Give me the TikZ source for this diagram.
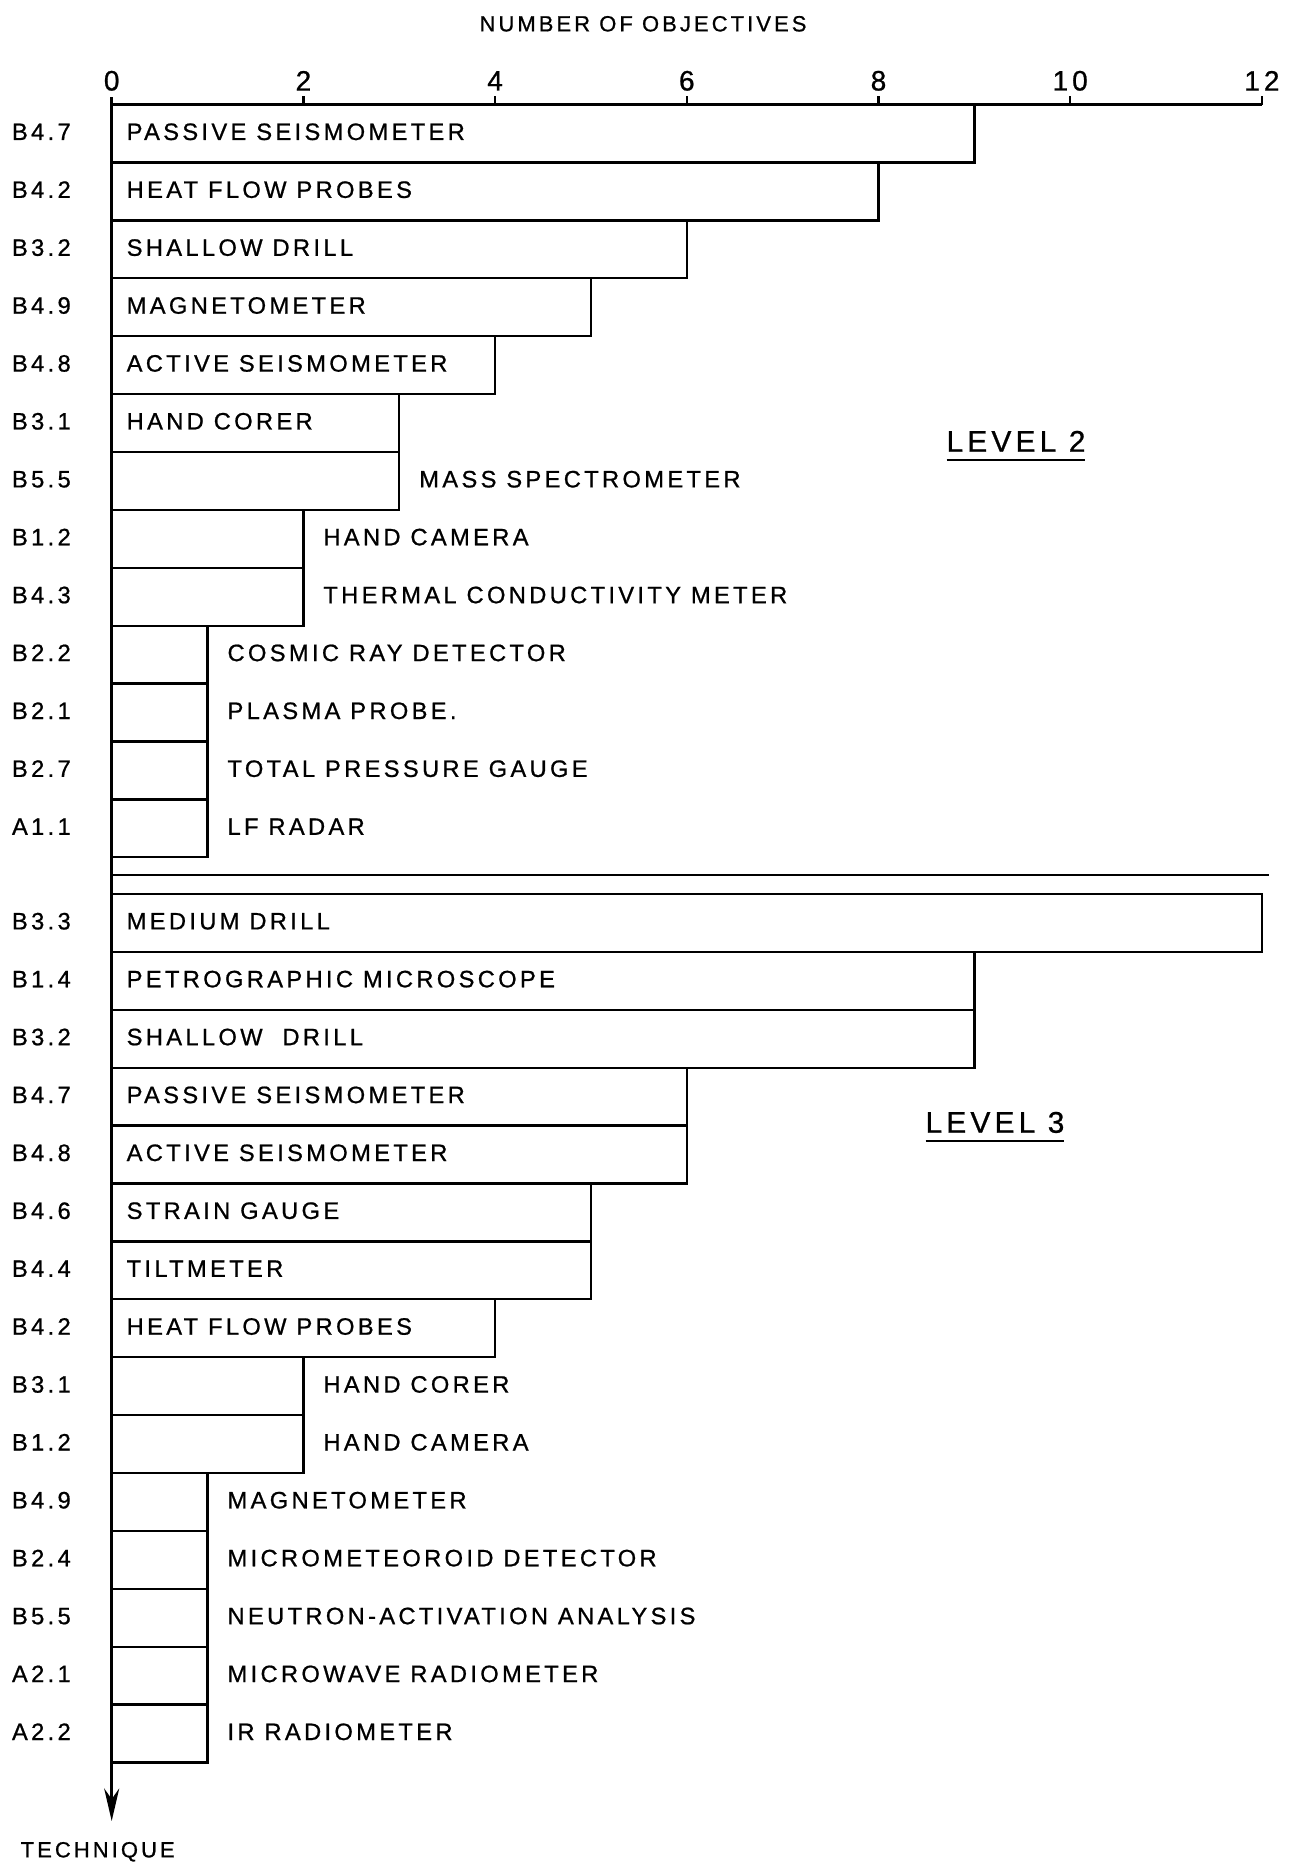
\documentclass[tikz,border=0pt]{standalone}
\usepackage{fontspec}
\setmainfont{Liberation Sans}[LetterSpace=14,FakeBold=0.8]
\usepackage{tikz}
\usetikzlibrary{arrows.meta,positioning,calc}

\begin{document}
\begin{tikzpicture}[
	  every node/.style={inner sep=0pt,outer sep=0pt},
	  bar/.style={draw,line width=1.3pt,anchor=north west,minimum width=#1*1.917cm,minimum height=1.158cm},
	  lettering/.style={anchor=west,font=\fontsize{13.5}{15}\selectfont,text height=9.6pt,text depth=0pt,yshift=0.04cm},
	  techcode/.style={lettering,font=\fontsize{13.5}{15}\selectfont},
	  inlabel/.style={lettering,xshift=0.3cm},
	  outlabel/.style={lettering,xshift=0.4cm},
	  ticklabel/.style={font=\fontsize{16}{18}\selectfont},
	  levellabel/.style={font=\fontsize{17}{19}\selectfont,text height=12.2pt,text depth=0pt},
	  axisline/.style={line width=1.8pt},
	  tickline/.style={line width=1.3pt}]

	  \path[fill=white] (0,0) rectangle (25.86,-37.28);

	  % axes
	  \coordinate (origin) at (2.234,-2.092);
	  \coordinate (axistop) at (2.234,-1.94);
	  \coordinate (axisend) at (25.238,-2.092);
	  \coordinate (tip) at (2.234,-36.42);
	  \coordinate (codecol) at (0.24,0);
	  \coordinate (top3) at (2.234,-17.88);
	  \coordinate (sepend) at (25.38,-17.50);

	  \node[font=\fontsize{12.5}{14}\selectfont] (title) at (12.86,-0.476) {NUMBER OF OBJECTIVES};
	  \node[ticklabel] (t0) at (2.234,-1.616) {0};
	  \node[ticklabel] (t2) at (6.068,-1.616) {2};
	  \node[ticklabel] (t4) at (9.902,-1.616) {4};
	  \node[ticklabel] (t6) at (13.736,-1.616) {6};
	  \node[ticklabel] (t8) at (17.570,-1.616) {8};
	  \node[ticklabel] (t10) at (21.404,-1.616) {10};
	  \node[ticklabel] (t12) at (25.238,-1.616) {12};
	  \draw[tickline] (t2 |- origin) -- ++(0,0.18);
	  \draw[tickline] (t4 |- origin) -- ++(0,0.18);
	  \draw[tickline] (t6 |- origin) -- ++(0,0.18);
	  \draw[tickline] (t8 |- origin) -- ++(0,0.18);
	  \draw[tickline] (t10 |- origin) -- ++(0,0.18);
	  \draw[tickline] (t12 |- origin) -- ++(0,0.18);

	  % level 2
	  \node[bar=9] (passive2) at (origin) {};
	  \node[techcode] (passive2-code) at (codecol |- passive2.west) {B4.7};
	  \node[inlabel] (passive2-text) at (passive2.west) {PASSIVE SEISMOMETER};
	  \node[bar=8] (heat2) at (passive2.south west) {};
	  \node[techcode] (heat2-code) at (codecol |- heat2.west) {B4.2};
	  \node[inlabel] (heat2-text) at (heat2.west) {HEAT FLOW PROBES};
	  \node[bar=6] (shallow2) at (heat2.south west) {};
	  \node[techcode] (shallow2-code) at (codecol |- shallow2.west) {B3.2};
	  \node[inlabel] (shallow2-text) at (shallow2.west) {SHALLOW DRILL};
	  \node[bar=5] (magneto2) at (shallow2.south west) {};
	  \node[techcode] (magneto2-code) at (codecol |- magneto2.west) {B4.9};
	  \node[inlabel] (magneto2-text) at (magneto2.west) {MAGNETOMETER};
	  \node[bar=4] (active2) at (magneto2.south west) {};
	  \node[techcode] (active2-code) at (codecol |- active2.west) {B4.8};
	  \node[inlabel] (active2-text) at (active2.west) {ACTIVE SEISMOMETER};
	  \node[bar=3] (corer2) at (active2.south west) {};
	  \node[techcode] (corer2-code) at (codecol |- corer2.west) {B3.1};
	  \node[inlabel] (corer2-text) at (corer2.west) {HAND CORER};
	  \node[bar=3] (massspec2) at (corer2.south west) {};
	  \node[techcode] (massspec2-code) at (codecol |- massspec2.west) {B5.5};
	  \node[outlabel] (massspec2-text) at (massspec2.east) {MASS SPECTROMETER};
	  \node[bar=2] (camera2) at (massspec2.south west) {};
	  \node[techcode] (camera2-code) at (codecol |- camera2.west) {B1.2};
	  \node[outlabel] (camera2-text) at (camera2.east) {HAND CAMERA};
	  \node[bar=2] (thermal2) at (camera2.south west) {};
	  \node[techcode] (thermal2-code) at (codecol |- thermal2.west) {B4.3};
	  \node[outlabel] (thermal2-text) at (thermal2.east) {THERMAL CONDUCTIVITY METER};
	  \node[bar=1] (cosmic2) at (thermal2.south west) {};
	  \node[techcode] (cosmic2-code) at (codecol |- cosmic2.west) {B2.2};
	  \node[outlabel] (cosmic2-text) at (cosmic2.east) {COSMIC RAY DETECTOR};
	  \node[bar=1] (plasma2) at (cosmic2.south west) {};
	  \node[techcode] (plasma2-code) at (codecol |- plasma2.west) {B2.1};
	  \node[outlabel] (plasma2-text) at (plasma2.east) {PLASMA PROBE.};
	  \node[bar=1] (pressure2) at (plasma2.south west) {};
	  \node[techcode] (pressure2-code) at (codecol |- pressure2.west) {B2.7};
	  \node[outlabel] (pressure2-text) at (pressure2.east) {TOTAL PRESSURE GAUGE};
	  \node[bar=1] (radar2) at (pressure2.south west) {};
	  \node[techcode] (radar2-code) at (codecol |- radar2.west) {A1.1};
	  \node[outlabel] (radar2-text) at (radar2.east) {LF RADAR};

	  \node[levellabel] (level2) at (20.32,-8.82) {LEVEL 2};
	  \draw[tickline] ([yshift=-0.17cm]level2.south west) -- ([yshift=-0.17cm]level2.south east);

	  \draw[tickline] (origin |- sepend) -- (sepend);

	  % level 3
	  \node[bar=12] (medium3) at (top3) {};
	  \node[techcode] (medium3-code) at (codecol |- medium3.west) {B3.3};
	  \node[inlabel] (medium3-text) at (medium3.west) {MEDIUM DRILL};
	  \node[bar=9] (petro3) at (medium3.south west) {};
	  \node[techcode] (petro3-code) at (codecol |- petro3.west) {B1.4};
	  \node[inlabel] (petro3-text) at (petro3.west) {PETROGRAPHIC MICROSCOPE};
	  \node[bar=9] (shallow3) at (petro3.south west) {};
	  \node[techcode] (shallow3-code) at (codecol |- shallow3.west) {B3.2};
	  \node[inlabel] (shallow3-text) at (shallow3.west) {SHALLOW~~DRILL};
	  \node[bar=6] (passive3) at (shallow3.south west) {};
	  \node[techcode] (passive3-code) at (codecol |- passive3.west) {B4.7};
	  \node[inlabel] (passive3-text) at (passive3.west) {PASSIVE SEISMOMETER};
	  \node[bar=6] (active3) at (passive3.south west) {};
	  \node[techcode] (active3-code) at (codecol |- active3.west) {B4.8};
	  \node[inlabel] (active3-text) at (active3.west) {ACTIVE SEISMOMETER};
	  \node[bar=5] (strain3) at (active3.south west) {};
	  \node[techcode] (strain3-code) at (codecol |- strain3.west) {B4.6};
	  \node[inlabel] (strain3-text) at (strain3.west) {STRAIN GAUGE};
	  \node[bar=5] (tilt3) at (strain3.south west) {};
	  \node[techcode] (tilt3-code) at (codecol |- tilt3.west) {B4.4};
	  \node[inlabel] (tilt3-text) at (tilt3.west) {TILTMETER};
	  \node[bar=4] (heat3) at (tilt3.south west) {};
	  \node[techcode] (heat3-code) at (codecol |- heat3.west) {B4.2};
	  \node[inlabel] (heat3-text) at (heat3.west) {HEAT FLOW PROBES};
	  \node[bar=2] (corer3) at (heat3.south west) {};
	  \node[techcode] (corer3-code) at (codecol |- corer3.west) {B3.1};
	  \node[outlabel] (corer3-text) at (corer3.east) {HAND CORER};
	  \node[bar=2] (camera3) at (corer3.south west) {};
	  \node[techcode] (camera3-code) at (codecol |- camera3.west) {B1.2};
	  \node[outlabel] (camera3-text) at (camera3.east) {HAND CAMERA};
	  \node[bar=1] (magneto3) at (camera3.south west) {};
	  \node[techcode] (magneto3-code) at (codecol |- magneto3.west) {B4.9};
	  \node[outlabel] (magneto3-text) at (magneto3.east) {MAGNETOMETER};
	  \node[bar=1] (micromet3) at (magneto3.south west) {};
	  \node[techcode] (micromet3-code) at (codecol |- micromet3.west) {B2.4};
	  \node[outlabel] (micromet3-text) at (micromet3.east) {MICROMETEOROID DETECTOR};
	  \node[bar=1] (neutron3) at (micromet3.south west) {};
	  \node[techcode] (neutron3-code) at (codecol |- neutron3.west) {B5.5};
	  \node[outlabel] (neutron3-text) at (neutron3.east) {NEUTRON-ACTIVATION ANALYSIS};
	  \node[bar=1] (microwave3) at (neutron3.south west) {};
	  \node[techcode] (microwave3-code) at (codecol |- microwave3.west) {A2.1};
	  \node[outlabel] (microwave3-text) at (microwave3.east) {MICROWAVE RADIOMETER};
	  \node[bar=1] (ir3) at (microwave3.south west) {};
	  \node[techcode] (ir3-code) at (codecol |- ir3.west) {A2.2};
	  \node[outlabel] (ir3-text) at (ir3.east) {IR RADIOMETER};

	  \node[levellabel] (level3) at (19.9,-22.44) {LEVEL 3};
	  \draw[tickline] ([yshift=-0.17cm]level3.south west) -- ([yshift=-0.17cm]level3.south east);

	  % axis lines drawn last
	  \draw[axisline] (origin) -- (axisend);
	  \draw[axisline,-{Stealth[length=0.65cm,width=0.3cm]}] (axistop) -- (tip);
	  \node[font=\fontsize{12.5}{14}\selectfont,below=0.42cm of tip,xshift=-0.28cm] (technique) {TECHNIQUE};
\end{tikzpicture}
\end{document}
